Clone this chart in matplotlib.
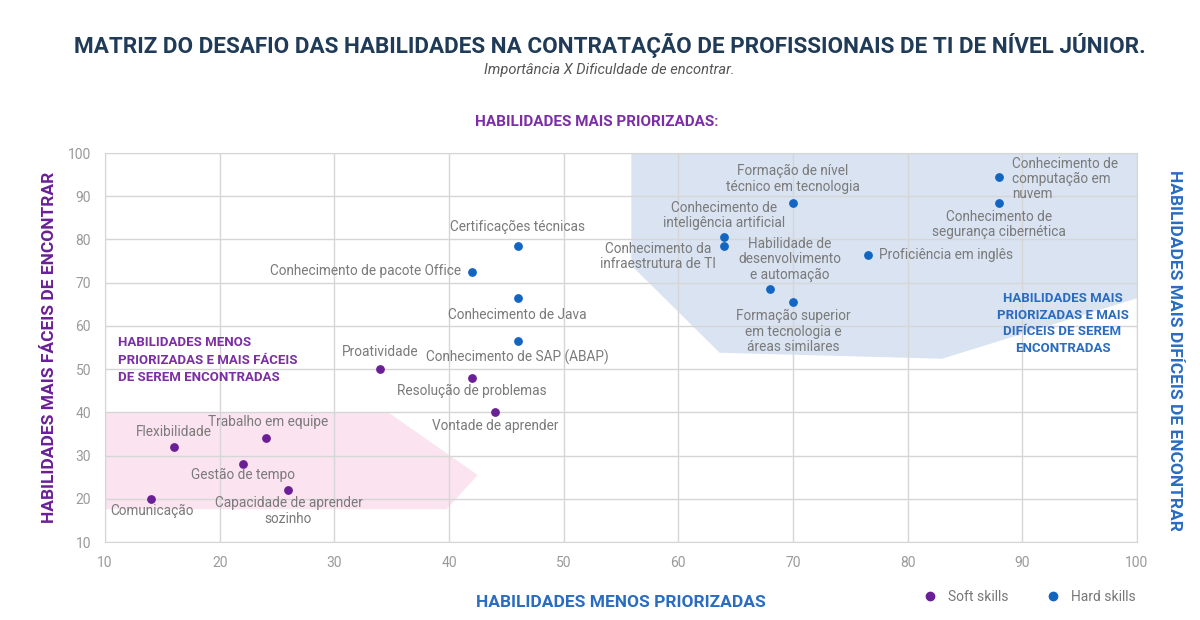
import matplotlib.pyplot as plt
from matplotlib.patches import Polygon
from matplotlib.lines import Line2D

plt.rcParams['font.family'] = ['Roboto', 'DejaVu Sans']

# soft skills
soft_names = ['Comunicação', 'Flexibilidade', 'Trabalho em equipe', 'Gestão de tempo',
              'Capacidade de aprender\nsozinho', 'Proatividade', 'Resolução de problemas',
              'Vontade de aprender']
soft_x = [14, 16, 24, 22, 26, 34, 42, 44]
soft_y = [20, 32, 34, 28, 22, 50, 48, 40]

# hard skills
hard_names = ['Certificações técnicas', 'Conhecimento de pacote Office', 'Conhecimento de Java',
              'Conhecimento de SAP (ABAP)', 'Formação de nível\ntécnico em tecnologia',
              'Conhecimento de\ninteligência artificial', 'Conhecimento da\ninfraestrutura de TI',
              'Habilidade de\ndesenvolvimento\ne automação',
              'Formação superior\nem tecnologia e\náreas similares', 'Proficiência em inglês',
              'Conhecimento de\ncomputação em\nnuvem', 'Conhecimento de\nsegurança cibernética']
hard_x = [46, 42, 46, 46, 70, 64, 64, 68, 70, 76.5, 88, 88]
hard_y = [78.5, 72.5, 66.5, 56.5, 88.5, 80.5, 78.5, 68.5, 65.5, 76.5, 94.5, 88.5]

# label placement (x, y, ha) per point
soft_lbl = [(14.1, 17.3, 'center'), (16, 35.5, 'center'), (24.2, 37.8, 'center'),
            (22, 25.5, 'center'), (26, 17.2, 'center'), (34, 54, 'center'),
            (42, 45, 'center'), (44, 36.9, 'center')]
hard_lbl = [(46, 82.8, 'center'), (41.1, 72.6, 'right'), (46, 62.6, 'center'),
            (46, 52.7, 'center'), (70, 94, 'center'), (64, 85.6, 'center'),
            (63.3, 76.1, 'right'), (69.7, 75.4, 'center'), (70, 58.7, 'center'),
            (77.5, 76.3, 'left'), (89.1, 94, 'left'), (88, 83.5, 'center')]

# shaded zones
blue_zone = [(55.9, 100), (55.9, 74), (63.6, 53.8), (83, 52.4), (100, 66.4), (100, 100)]
pink_zone = [(10, 40), (34.7, 40), (42.5, 25.5), (39.8, 17.6), (10, 17.6)]

PURPLE = '#6a1f96'
BLUE = '#1266c2'
GRAY = '#7a7a7a'

fig = plt.figure(figsize=(12, 6.2), dpi=100)
ax = fig.add_axes([0.0875, 0.1258, 0.86, 0.6274])

ax.add_patch(Polygon(blue_zone, closed=True, facecolor='#d9e3f1', edgecolor='none', zorder=0))
ax.add_patch(Polygon(pink_zone, closed=True, facecolor='#fbe4ef', edgecolor='none', zorder=0))

ax.scatter(soft_x, soft_y, s=28, color=PURPLE, zorder=3)
ax.scatter(hard_x, hard_y, s=28, color=BLUE, zorder=3)

for name, (lx, ly, ha) in zip(soft_names + hard_names, soft_lbl + hard_lbl):
    ax.text(lx, ly, name, ha=ha, va='center', fontsize=9.8, color=GRAY,
            multialignment='left' if ha == 'left' else 'center', linespacing=1.12, zorder=4)

ax.text(11.1, 52, 'HABILIDADES MENOS\nPRIORIZADAS E MAIS FÁCEIS\nDE SEREM ENCONTRADAS',
        ha='left', va='center', fontsize=9.5, fontweight='bold', color='#7b2fa3', linespacing=1.45)
ax.text(93.5, 60.6, 'HABILIDADES MAIS\nPRIORIZADAS E MAIS\nDIFÍCEIS DE SEREM\nENCONTRADAS',
        ha='center', va='center', fontsize=9.5, fontweight='bold', color='#2a6cc0', linespacing=1.35)

ax.set_xlim(10, 100)
ax.set_ylim(10, 100)
ax.set_xticks(range(10, 101, 10))
ax.set_yticks(range(10, 101, 10))
ax.grid(True, color='#d6d6d6', linewidth=1)
ax.set_axisbelow(True)
ax.tick_params(length=0, labelsize=10, labelcolor='#9a9a9a', pad=10)
for sp in ax.spines.values():
    sp.set_color('#d6d6d6')

ax.set_xlabel('HABILIDADES MENOS PRIORIZADAS', fontsize=12.5, fontweight='bold', color='#2a6cc0', labelpad=18)
ax.set_ylabel('HABILIDADES MAIS FÁCEIS DE ENCONTRAR', fontsize=12.5, fontweight='bold', color='#6a1f96', labelpad=8)
fig.text(0.979, 0.435, 'HABILIDADES MAIS DIFÍCEIS DE ENCONTRAR', rotation=-90, ha='center', va='center',
         fontsize=12.5, fontweight='bold', color='#2a6cc0')

fig.text(0.508, 0.927, 'MATRIZ DO DESAFIO DAS HABILIDADES NA CONTRATAÇÃO DE PROFISSIONAIS DE TI DE NÍVEL JÚNIOR.',
         ha='center', va='center', fontsize=16.2, fontweight='bold', color='#1f3b57')
fig.text(0.508, 0.887, 'Importância X Dificuldade de encontrar.', ha='center', va='center',
         fontsize=10.5, style='italic', color='#555555')
fig.text(0.497, 0.803, 'HABILIDADES MAIS PRIORIZADAS:', ha='center', va='center',
         fontsize=11, fontweight='bold', color='#7b2fa3')

handles = [Line2D([], [], marker='o', linestyle='', color=PURPLE, markersize=6, label='Soft skills'),
           Line2D([], [], marker='o', linestyle='', color=BLUE, markersize=6, label='Hard skills')]
fig.legend(handles=handles, loc='center', bbox_to_anchor=(0.855, 0.037), ncol=2, frameon=False,
           fontsize=10, labelcolor='#777777', handletextpad=0.3, columnspacing=2.2)

fig.savefig('out.png', dpi=100)
